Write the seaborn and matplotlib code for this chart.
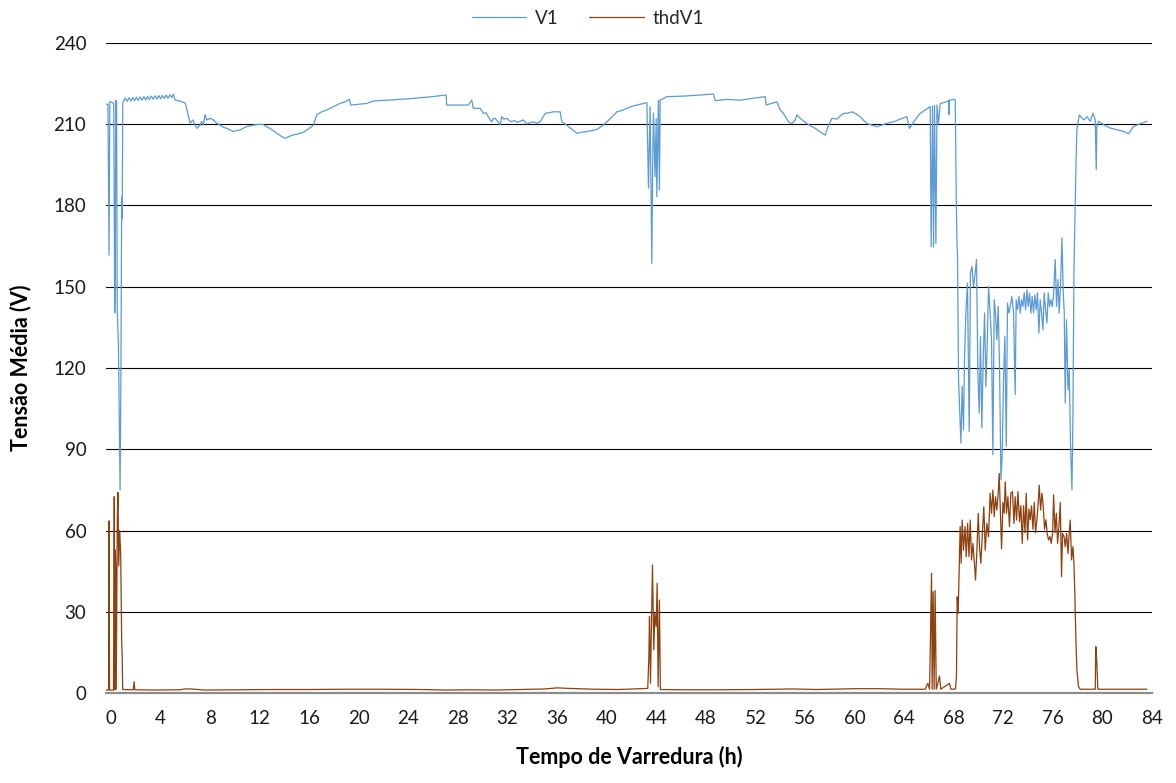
import matplotlib
matplotlib.use("Agg")
import matplotlib.pyplot as plt
import seaborn as sns
import pandas as pd

# ---------------- data ----------------
v1_time = [
    -0.43, -0.25, -0.16, -0.10, 0.10, 0.22, 0.30, 0.34, 0.38, 0.45, 0.50, 0.60, 0.73, 0.80, 0.86, 0.90, 0.95,
    1.00, 1.15, 1.30, 1.45, 1.60, 1.75, 1.90, 2.05, 2.20, 2.35, 2.50, 2.65, 2.80, 2.95, 3.10, 3.25, 3.40, 3.55,
    3.70, 3.85, 4.00, 4.15, 4.30, 4.45, 4.60, 4.75, 4.90, 5.03,
    5.17, 5.60, 6.00, 6.38, 6.60, 6.92, 7.18, 7.32, 7.45, 7.59, 7.72, 7.99, 8.26, 8.53, 8.80, 9.07, 9.34, 9.60,
    9.87, 10.14, 10.41, 10.68, 10.95, 11.22, 11.49, 11.90, 12.29, 12.56, 12.83, 13.10, 13.37, 13.70, 14.04, 14.37,
    14.71, 15.00, 15.25, 15.55, 15.80, 16.05, 16.33, 16.60, 17.00, 17.41, 17.94, 18.48, 18.90, 19.23, 19.35, 20.00,
    20.64, 21.17, 22.25, 23.33, 24.50, 25.70, 27.04, 27.09, 28.00, 28.84, 29.11, 29.24, 29.78, 30.05, 30.25, 30.45,
    30.60, 30.72, 30.85, 30.99, 31.20, 31.40, 31.53, 31.70, 31.94, 32.15, 32.34, 32.55, 32.74, 33.00, 33.28, 33.55,
    33.80, 34.08, 34.35, 34.62, 35.03, 35.70, 36.24, 36.38, 36.78, 37.20, 37.59, 38.00, 38.39, 38.80, 39.20, 39.60,
    40.01, 40.40, 40.82, 41.20, 41.62, 42.00, 42.43, 43.24, 43.37, 43.50, 43.64, 43.72, 43.77, 43.90, 43.99, 44.04,
    44.17, 44.25, 44.31, 44.85, 46.19, 47.54, 48.61, 48.75, 49.69, 50.77, 51.80, 52.78, 52.87, 53.30, 53.73, 54.00,
    54.26, 54.67, 54.94, 55.21, 55.34, 55.61, 55.90, 56.15, 56.50, 56.82, 57.20, 57.63, 57.90, 58.17, 58.57, 58.85,
    59.11, 59.45, 59.78, 60.10, 60.45, 60.70, 60.99, 61.40, 61.80, 62.33, 62.70, 63.14, 63.68, 64.22, 64.43, 64.80,
    65.29, 65.70, 66.10, 66.18, 66.29, 66.37, 66.45, 66.56, 66.65, 66.77, 66.91, 67.30, 67.58, 67.62, 67.66, 68.04,
    68.12, 68.20, 68.25, 68.31, 68.39, 68.47, 68.58, 68.68, 68.79, 68.87, 68.98, 69.11, 69.25, 69.35, 69.47, 69.60,
    69.73, 69.84, 69.95, 70.06, 70.16, 70.27, 70.38, 70.49, 70.60, 70.70, 70.81, 70.94, 71.05, 71.16, 71.27, 71.37,
    71.48, 71.59, 71.70, 71.81, 71.91, 72.02, 72.13, 72.24, 72.34, 72.45, 72.56, 72.69, 72.83, 72.96, 73.04, 73.15,
    73.26, 73.37, 73.47, 73.58, 73.69, 73.80, 73.91, 74.01, 74.12, 74.23, 74.33, 74.44, 74.55, 74.66, 74.76, 74.87,
    74.98, 75.09, 75.20, 75.30, 75.41, 75.52, 75.63, 75.73, 75.84, 75.95, 76.05, 76.19, 76.30, 76.41, 76.51, 76.62,
    76.73, 76.84, 76.92, 77.00, 77.10, 77.22, 77.32, 77.43, 77.54, 77.62, 77.70, 77.78, 77.86, 77.94, 78.13, 78.34,
    78.53, 78.75, 79.02, 79.23, 79.42, 79.50, 79.55, 79.69, 80.09, 80.63, 81.17, 81.70, 82.11, 82.51, 83.05, 83.59,
]
v1_volts = [
    217.3, 217.3, 161.7, 218.2, 218.0, 217.5, 140.3, 150.0, 218.7, 218.5, 142.0, 128.0, 75.0, 120.0, 183.0, 175.0, 218.0,
    218.3, 219.6, 218.4, 219.7, 218.5, 219.8, 218.6, 219.9, 218.7, 220.0, 218.8, 220.1, 218.9, 220.2, 219.0, 220.3, 219.1, 220.4,
    219.2, 220.5, 219.3, 220.6, 219.4, 220.7, 219.5, 220.8, 219.8, 221.0,
    218.8, 218.5, 217.6, 210.3, 211.5, 208.4, 209.6, 211.0, 209.6, 213.4, 211.5, 212.1, 211.5, 210.3, 209.6, 208.8, 208.4, 207.8,
    207.2, 207.6, 207.8, 208.5, 209.0, 209.4, 209.6, 209.9, 209.8, 209.0, 208.4, 207.5, 206.6, 205.6, 204.7, 205.4,
    206.0, 206.2, 206.6, 207.0, 207.8, 208.6, 209.6, 213.4, 214.5, 215.2, 216.4, 217.6, 218.2, 219.1, 217.0, 217.3,
    217.6, 218.5, 218.8, 219.1, 219.5, 220.0, 220.7, 217.0, 217.0, 217.0, 218.8, 215.8, 215.8, 213.9, 214.2, 212.7,
    211.5, 210.8, 212.0, 212.1, 211.0, 209.6, 212.7, 211.8, 212.1, 211.2, 210.8, 211.4, 210.6, 211.0, 211.5, 210.0,
    210.5, 210.8, 210.3, 210.8, 213.9, 214.5, 214.5, 210.8, 209.6, 208.0, 206.6, 207.0, 207.2, 207.6, 208.0, 209.2,
    210.8, 212.5, 214.5, 215.0, 215.8, 216.5, 217.0, 217.9, 186.3, 216.4, 158.6, 200.0, 214.0, 190.6, 212.0, 183.2,
    218.8, 185.7, 218.8, 220.1, 220.3, 220.7, 221.1, 218.6, 219.1, 218.8, 219.5, 220.1, 217.0, 217.6, 218.2, 215.2,
    213.9, 210.8, 210.2, 211.5, 213.4, 212.1, 211.0, 210.2, 209.2, 208.4, 207.2, 205.9, 209.6, 212.1, 211.8, 213.0,
    213.9, 214.0, 214.5, 213.8, 212.7, 211.5, 210.2, 209.6, 209.0, 209.8, 210.4, 210.8, 211.8, 212.7, 208.4, 211.0,
    213.9, 215.2, 216.4, 164.7, 216.6, 164.7, 216.8, 165.9, 217.0, 210.0, 217.6, 218.0, 218.6, 213.5, 218.8, 219.1,
    219.0, 184.5, 168.6, 160.0, 115.7, 105.9, 92.3, 113.2, 97.2, 123.1, 140.3, 151.3, 96.6, 155.0, 157.5, 150.0,
    155.0, 160.0, 118.2, 103.4, 131.7, 97.9, 123.1, 140.3, 113.2, 128.0, 150.0, 140.3, 130.4, 88.0, 145.2, 140.3,
    130.4, 142.7, 119.4, 78.8, 87.4, 115.7, 131.7, 91.1, 144.0, 140.3, 142.7, 146.4, 140.3, 110.2, 145.2, 141.5,
    146.4, 140.3, 145.2, 142.7, 147.7, 141.5, 148.9, 142.7, 147.7, 140.3, 146.4, 140.3, 147.0, 141.5, 147.7, 132.9,
    145.2, 140.3, 134.1, 147.7, 141.5, 136.6, 147.7, 142.7, 145.2, 142.7, 146.4, 160.0, 142.7, 152.6, 140.3, 150.0,
    168.0, 147.7, 140.3, 107.1, 137.8, 112.0, 119.4, 91.1, 75.1, 102.2, 155.0, 174.7, 193.8, 207.9, 213.4, 212.2,
    211.5, 212.8, 211.0, 214.0, 211.5, 193.2, 209.0, 211.0, 209.8, 208.5, 207.9, 207.3, 206.4, 209.1, 210.1, 211.0,
]

thd_time = [
    -0.43, -0.20, -0.16, -0.12, 0.20, 0.26, 0.30, 0.34, 0.38, 0.42, 0.51, 0.56, 0.62, 0.70, 0.78, 0.82, 0.86, 0.90, 0.94,
    1.80, 1.86, 1.92, 3.50, 5.50, 6.00, 6.50, 7.50, 10.0, 13.0, 16.0, 19.0, 22.0, 25.0, 27.0, 29.0, 31.0, 33.0, 35.0,
    36.0, 37.0, 39.0, 41.0,
    43.31, 43.40, 43.45, 43.53, 43.69, 43.80, 43.88, 43.99, 44.07, 44.15, 44.25, 44.33,
    46.0, 49.0, 52.0, 55.0, 57.0, 60.0, 62.0, 64.0,
    65.70, 65.91, 66.05, 66.21, 66.26, 66.34, 66.42, 66.50, 66.59, 66.69, 66.85, 66.96, 67.66, 67.77, 68.14, 68.22,
    68.28, 68.36, 68.44, 68.52, 68.60, 68.68, 68.79, 68.91, 69.01, 69.12, 69.23, 69.33, 69.44, 69.55, 69.65, 69.76,
    69.87, 69.98, 70.08, 70.19, 70.30, 70.43, 70.54, 70.68, 70.81, 70.94, 71.05, 71.16, 71.27, 71.37, 71.48, 71.59,
    71.67, 71.75, 71.86, 71.97, 72.07, 72.16, 72.26, 72.37, 72.50, 72.61, 72.74, 72.86, 72.96, 73.07, 73.18, 73.31,
    73.42, 73.53, 73.64, 73.75, 73.85, 73.96, 74.07, 74.17, 74.28, 74.39, 74.50, 74.60, 74.71, 74.82, 74.90, 75.01,
    75.12, 75.22, 75.33, 75.44, 75.54, 75.65, 75.77, 75.87, 75.98, 76.06, 76.17, 76.28, 76.38, 76.49, 76.60, 76.70,
    76.78, 76.90, 77.00, 77.11, 77.22, 77.32, 77.40, 77.51, 77.62, 77.70, 77.78, 77.86, 77.94, 78.07, 78.20,
    79.42, 79.47, 79.55, 79.63, 81.44, 83.59,
]
thd_values = [
    1.2, 1.2, 63.6, 1.2, 1.2, 72.5, 1.3, 52.9, 47.0, 1.5, 65.8, 74.1, 47.0, 60.0, 51.0, 34.0, 19.0, 14.0, 1.4,
    1.3, 4.3, 1.3, 1.2, 1.3, 1.6, 1.6, 1.2, 1.3, 1.4, 1.4, 1.5, 1.5, 1.4, 1.2, 1.3, 1.2, 1.4, 1.6,
    2.0, 1.8, 1.5, 1.4,
    1.8, 13.5, 28.3, 3.7, 47.3, 16.0, 29.5, 24.6, 40.6, 2.4, 34.4, 1.4,
    1.3, 1.3, 1.4, 1.6, 1.4, 1.7, 1.7, 1.5,
    1.5, 3.7, 1.5, 44.3, 1.5, 37.5, 1.5, 37.9, 1.5, 3.1, 6.4, 1.5, 3.7, 1.5, 1.6, 6.2,
    35.6, 29.5, 45.5, 61.5, 48.0, 63.9, 52.8, 61.5, 50.4, 62.7, 50.4, 63.9, 49.2, 55.3, 49.2, 41.8,
    52.8, 66.4, 54.1, 48.0, 58.0, 68.8, 52.8, 62.7, 57.7, 73.8, 66.4, 75.0, 65.2, 72.5, 67.6, 73.8,
    81.1, 69.2, 53.3, 70.4, 66.4, 78.0, 66.4, 72.5, 61.5, 73.8, 74.4, 62.7, 72.5, 63.9, 74.4, 63.3,
    69.2, 55.3, 69.2, 59.2, 73.8, 56.6, 68.0, 64.0, 69.2, 60.5, 70.4, 59.2, 64.0, 70.4, 76.8, 67.6,
    73.8, 69.2, 60.5, 64.0, 59.0, 56.6, 57.8, 55.3, 59.2, 73.2, 59.2, 66.4, 55.3, 61.5, 70.4, 43.0,
    59.0, 57.8, 54.1, 59.0, 51.6, 59.2, 63.9, 49.2, 54.1, 48.0, 35.6, 19.7, 8.6, 2.5, 1.5,
    1.5, 17.2, 11.0, 1.5, 1.5, 1.5,
]

x_ticks = list(range(0, 85, 4))
y_ticks = list(range(0, 241, 30))

# ---------------- figure ----------------
sns.set_theme(style="white")
plt.rcParams["font.family"] = ["Lato", "DejaVu Sans"]

fig = plt.figure(figsize=(11.76, 7.83), dpi=100)
ax = fig.add_axes([105.7 / 1176, 1 - 693.3 / 783, (1152 - 105.7) / 1176, (693.3 - 42.7) / 783])

df_v1 = pd.DataFrame({"t": v1_time, "v": v1_volts})
df_thd = pd.DataFrame({"t": thd_time, "v": thd_values})

sns.lineplot(data=df_v1, x="t", y="v", ax=ax, color="#5B9BD5", lw=0.9,
             estimator=None, sort=False, label="V1")
sns.lineplot(data=df_thd, x="t", y="v", ax=ax, color="#8E400E", lw=0.9,
             estimator=None, sort=False, label="thdV1")

ax.set_xlim(-0.43, 84.0)
ax.set_ylim(0, 240)
ax.set_xticks(x_ticks)
ax.set_yticks(y_ticks)
ax.tick_params(axis="both", length=0, labelsize=13.5, colors="#1a1a1a")
ax.tick_params(axis="y", pad=14)
ax.tick_params(axis="x", pad=12)

ax.grid(axis="y", color="black", lw=0.8)
ax.grid(axis="x", visible=False)
for s in ["left", "right", "top"]:
    ax.spines[s].set_visible(False)
ax.spines["bottom"].set_color("#8C8C8C")
ax.spines["bottom"].set_linewidth(1.6)
ax.spines["bottom"].set_zorder(5)

ax.set_xlabel("Tempo de Varredura (h)", fontsize=15.5, fontweight="bold", labelpad=14, color="black")
ax.set_ylabel("Tensão Média (V)", fontsize=15.5, fontweight="bold", labelpad=16, color="black")

ax.get_legend().remove()
handles, labels = ax.get_legend_handles_labels()
fig.legend(handles, labels, loc="center", bbox_to_anchor=(0.5, 1 - 18 / 783), ncol=2,
           frameon=False, fontsize=13.5, handlelength=2.9, columnspacing=1.6, handletextpad=0.5)

fig.savefig("out.png", dpi=100)
